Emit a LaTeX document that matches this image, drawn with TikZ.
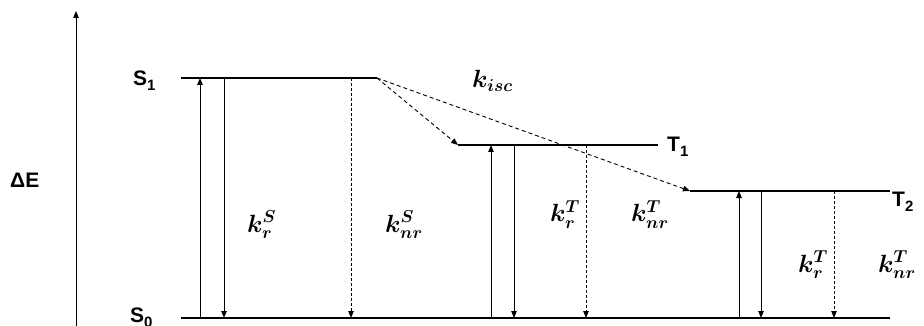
\documentclass[tikz,border=0pt]{standalone}
\usepackage{amsmath}
\usepackage{bm}
\usepackage{fontspec}
\setmainfont{Liberation Sans}
\usetikzlibrary{arrows.meta}
\newcommand\lvsub[1]{\raisebox{-5pt}{\fontsize{15}{15}\selectfont #1}}
\begin{document}
\begin{tikzpicture}[x=1pt,y=-1pt,
  level/.style={line width=2pt},
  trans/.style={line width=0.9pt,-{Triangle[length=7pt,width=5.5pt]}},
  nrtrans/.style={trans,dash pattern=on 3pt off 2pt},
  isc/.style={trans,dash pattern=on 4pt off 3pt},
  lab/.style={font=\fontsize{21}{24}\selectfont\bfseries,inner sep=0pt},
  rate/.style={font=\fontsize{25}{28}\selectfont,inner sep=0pt}]
\useasboundingbox (0,0) rectangle (924,326);
% energy axis
\coordinate (axb) at (76,330);
\coordinate (axt) at (76,11);
\draw[trans] (axb) -- (axt);
\node[lab,anchor=base west] (dE) at (10,187) {ΔE};
% levels
\coordinate (s1l) at (181,78); \coordinate (s1r) at (377,78);
\coordinate (s0l) at (181,318); \coordinate (s0r) at (890,318);
\coordinate (t1l) at (458,145); \coordinate (t1r) at (658,145);
\coordinate (t2l) at (690,191); \coordinate (t2r) at (890,191);
\draw[level] (s1l) -- (s1r);
\draw[level] (s0l) -- (s0r);
\draw[level] (t1l) -- (t1r);
\draw[level] (t2l) -- (t2r);
\node[lab,anchor=base west] (S1) at (133,86) {S\lvsub{1}};
\node[lab,anchor=base west] (S0) at (130,322) {S\lvsub{0}};
\node[lab,anchor=base west] (T1) at (667,152) {T\lvsub{1}};
\node[lab,anchor=base west] (T2) at (892,207) {T\lvsub{2}};
% S1 transitions
\coordinate (a1) at (200,318); \coordinate (a1t) at (200,78);
\coordinate (b1) at (224,78); \coordinate (b1b) at (224,318);
\coordinate (c1) at (351,78); \coordinate (c1b) at (351,318);
\draw[trans] (a1) -- (a1t);
\draw[trans] (b1) -- (b1b);
\draw[nrtrans] (c1) -- (c1b);
% T1 transitions
\coordinate (a2) at (491,318); \coordinate (a2t) at (491,145);
\coordinate (b2) at (514,145); \coordinate (b2b) at (514,318);
\coordinate (c2) at (586,145); \coordinate (c2b) at (586,318);
\draw[trans] (a2) -- (a2t);
\draw[trans] (b2) -- (b2b);
\draw[nrtrans] (c2) -- (c2b);
% T2 transitions
\coordinate (a3) at (739,318); \coordinate (a3t) at (739,191);
\coordinate (b3) at (761,191); \coordinate (b3b) at (761,318);
\coordinate (c3) at (834,191); \coordinate (c3b) at (834,318);
\draw[trans] (a3) -- (a3t);
\draw[trans] (b3) -- (b3b);
\draw[nrtrans] (c3) -- (c3b);
% ISC
\draw[isc] (s1r) -- (t1l);
\draw[isc] (s1r) -- (t2l);
% rate labels
\node[rate,anchor=base west] (kisc) at (472,88) {$\bm{k_{isc}}$};
\node[rate,anchor=base west] (krS) at (247,232) {$\bm{k_r^S}$};
\node[rate,anchor=base west] (knrS) at (385,232) {$\bm{k_{nr}^S}$};
\node[rate,anchor=base west] (krT1) at (550,222) {$\bm{k_r^T}$};
\node[rate,anchor=base west] (knrT1) at (631,222) {$\bm{k_{nr}^T}$};
\node[rate,anchor=base west] (krT2) at (798,272) {$\bm{k_r^T}$};
\node[rate,anchor=base west] (knrT2) at (878,272) {$\bm{k_{nr}^T}$};
\end{tikzpicture}
\end{document}
